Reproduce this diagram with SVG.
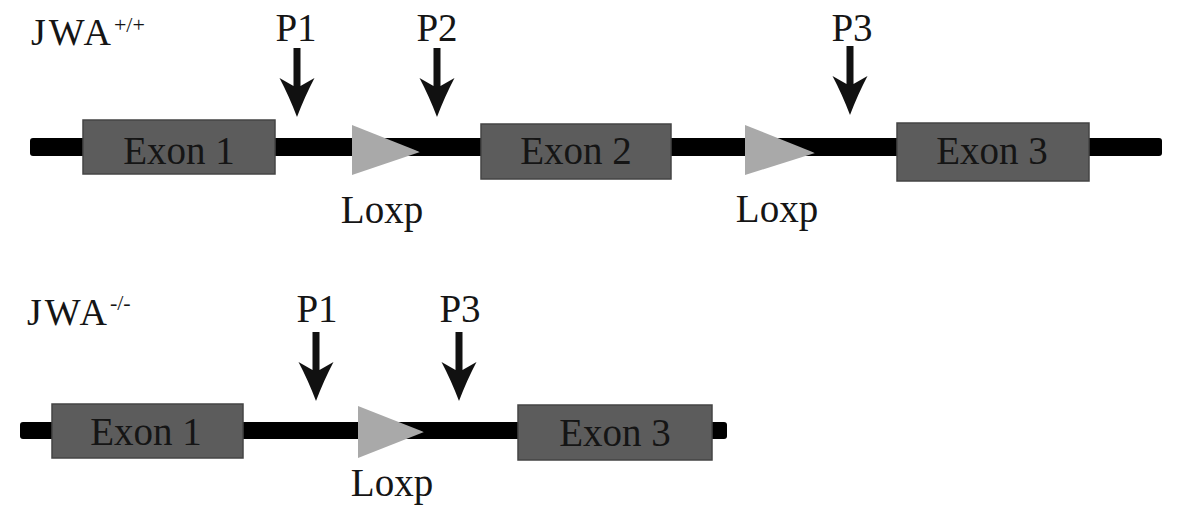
<svg xmlns="http://www.w3.org/2000/svg" width="1181" height="528" viewBox="0 0 1181 528">
<style>
text{font-family:"Liberation Serif","Times New Roman",Times,serif;fill:#151515;}
.lbl{font-size:39px;text-anchor:middle;}
.ttl{font-size:38px;letter-spacing:3px;}
.sup{font-size:22px;letter-spacing:0;}
.dna{fill:#000;}
.exon{fill:#5c5c5c;stroke:#444;stroke-width:1.5;}
.loxp{fill:#a9a9a9;}
.arr{fill:#111;}
</style>
<defs>
<path id="arrow" d="M-3.5,0 L3.5,0 L3.5,38 L17.5,30 Q8,48 0,69 Q-8,48 -17.5,30 L-3.5,38 Z"/>
</defs>
<rect width="1181" height="528" fill="#fff"/>
<text class="ttl" x="31" y="45">JWA<tspan class="sup" dy="-13">+/+</tspan></text>
<text class="ttl" x="27" y="325">JWA<tspan class="sup" dy="-15" font-size="20">-/-</tspan></text>
<g id="connectors">
<rect class="dna" x="30" y="138" width="1132" height="18" rx="3"/>
<rect class="dna" x="20" y="422" width="707" height="17" rx="3"/>
</g>
<g id="top-exon1"><rect class="exon" x="83" y="120" width="192" height="54"/><text class="lbl" x="179" y="164">Exon 1</text></g>
<g id="top-exon2"><rect class="exon" x="481" y="124" width="190" height="55"/><text class="lbl" x="576" y="164">Exon 2</text></g>
<g id="top-exon3"><rect class="exon" x="897" y="123" width="192" height="58"/><text class="lbl" x="992" y="164">Exon 3</text></g>
<g id="top-loxp1"><polygon class="loxp" points="352,125 352,175 420,152"/><polygon class="dna" points="394,138 422,138 420,152"/><text class="lbl" x="382" y="223">Loxp</text></g>
<g id="top-loxp2"><polygon class="loxp" points="745,125 745,175 815,153"/><polygon class="dna" points="790,138 818,138 815,153"/><text class="lbl" x="777" y="222">Loxp</text></g>
<g id="top-p1"><text class="lbl" x="296" y="41">P1</text><use href="#arrow" class="arr" x="297" y="48"/></g>
<g id="top-p2"><text class="lbl" x="437" y="41">P2</text><use href="#arrow" class="arr" x="437" y="48"/></g>
<g id="top-p3"><text class="lbl" x="852" y="41">P3</text><use href="#arrow" class="arr" x="850" y="46"/></g>
<g id="bot-exon1"><rect class="exon" x="52" y="404" width="191" height="54"/><text class="lbl" x="146" y="445">Exon 1</text></g>
<g id="bot-exon3"><rect class="exon" x="518" y="405" width="194" height="55"/><text class="lbl" x="615" y="446">Exon 3</text></g>
<g id="bot-loxp"><polygon class="loxp" points="358,406 358,458 424,432"/><polygon class="dna" points="408,422 428,422 424,432"/><text class="lbl" x="392" y="496">Loxp</text></g>
<g id="bot-p1"><text class="lbl" x="317" y="322">P1</text><use href="#arrow" class="arr" x="316" y="332"/></g>
<g id="bot-p3"><text class="lbl" x="460" y="322">P3</text><use href="#arrow" class="arr" x="459" y="332"/></g>
</svg>
